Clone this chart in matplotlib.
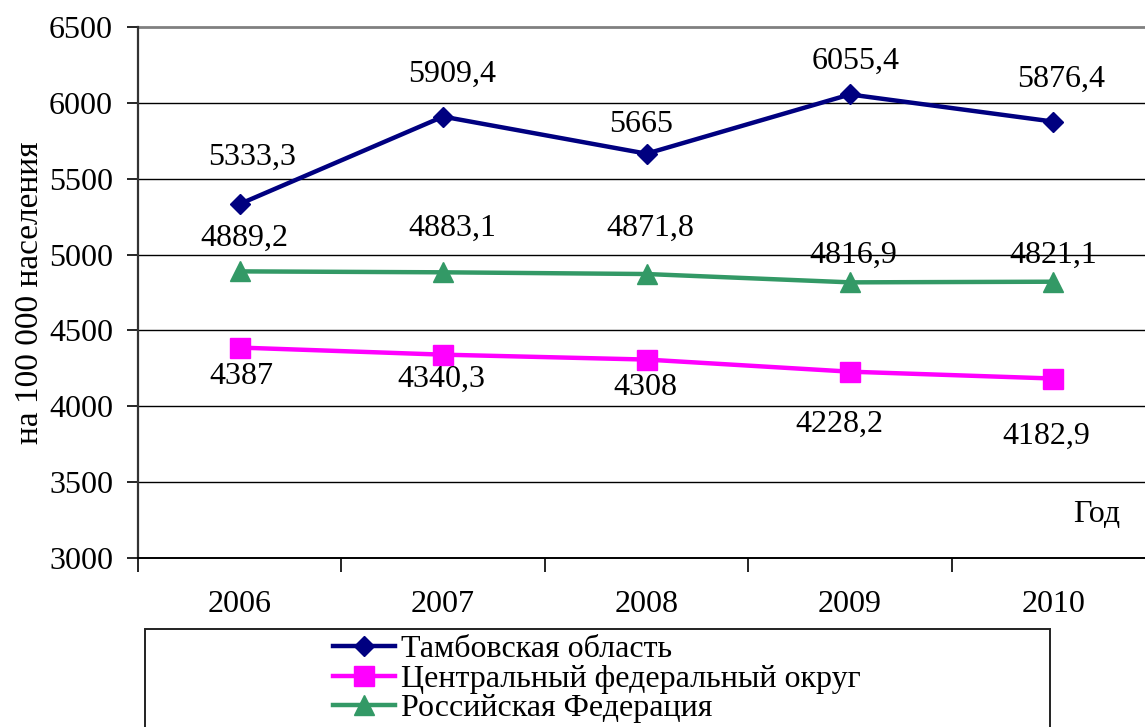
import matplotlib
matplotlib.use("Agg")
import matplotlib.pyplot as plt
from matplotlib.patches import Rectangle

plt.rcParams["font.family"] = ["Liberation Serif", "DejaVu Serif"]

# Data
years = ["2006", "2007", "2008", "2009", "2010"]
tambov = [5333.3, 5909.4, 5665, 6055.4, 5876.4]
cfd = [4387, 4340.3, 4308, 4228.2, 4182.9]
russia = [4889.2, 4883.1, 4871.8, 4816.9, 4821.1]
series_names = ["Тамбовская область", "Центральный федеральный округ", "Российская Федерация"]
y_ticks = [3000, 3500, 4000, 4500, 5000, 5500, 6000, 6500]

# Label offsets (pixels: dx, dy with +dy upward)
tambov_off = [(12, 47), (9, 42), (-5, 29), (6, 33), (8, 42)]
cfd_off = [(2, -29), (-2, -25), (-1, -28), (-11, -53), (-7, -58)]
russia_off = [(5, 33), (9, 44), (4, 46), (3, 27), (0, 26)]

W, H, DPI = 1145, 727, 100
fig = plt.figure(figsize=(W / DPI, H / DPI), dpi=DPI)
ax_left, ax_right, ax_top, ax_bot = 138, 1155, 27, 558
ax = fig.add_axes([ax_left / W, 1 - ax_bot / H, (ax_right - ax_left) / W, (ax_bot - ax_top) / H])

FS = 23
x = list(range(len(years)))

styles = [
    (tambov, "#000080", "D", 10.5, tambov_off),
    (cfd, "#FF00FF", "s", 14, cfd_off),
    (russia, "#339966", "^", 14, russia_off),
]
handles = []
for (vals, col, mk, ms, offs), name in zip(styles, series_names):
    (h,) = ax.plot(x, vals, color=col, lw=3.2, marker=mk, ms=ms,
                   markerfacecolor=col, markeredgecolor=col, label=name, zorder=3,
                   clip_on=False)
    handles.append(h)
    for xi, v, (dx, dy) in zip(x, vals, offs):
        txt = f"{v:g}".replace(".", ",")
        ax.annotate(txt, (xi, v), xytext=(dx * 0.72, dy * 0.72), textcoords="offset points",
                    ha="center", va="center", fontsize=FS, color="black", zorder=4)

ax.set_xlim(-0.5, len(years) - 0.5)
ax.set_ylim(3000, 6500)
ax.set_yticks(y_ticks)
ax.set_yticklabels([str(t) for t in y_ticks], fontsize=FS)
ax.set_xticks(x)
ax.set_xticklabels(years, fontsize=FS)
ax.set_xticks([i - 0.5 for i in range(len(years) + 1)], minor=True)
ax.tick_params(axis="x", which="major", length=0, pad=23)
ax.tick_params(axis="x", which="minor", length=10, width=1.2, color="black")
ax.tick_params(axis="y", length=8, width=1.2, pad=10)

for t in y_ticks[1:-1]:
    ax.axhline(t, color="black", lw=1.0, zorder=1)
ax.axhline(6500, color="#808080", lw=2.0, zorder=1, clip_on=False)

for s in ["top", "right"]:
    ax.spines[s].set_visible(False)
ax.spines["left"].set_color("#333333")
ax.spines["left"].set_linewidth(1.6)
ax.spines["bottom"].set_color("black")
ax.spines["bottom"].set_linewidth(1.4)

ax.text(1097 / W, 1 - 515 / H, "Год", transform=fig.transFigure, fontsize=FS,
        ha="center", va="center")
fig.text(30 / W, 1 - 293 / H, "на 100 000 населения", rotation=90, fontsize=24,
         ha="center", va="center")

# Legend box
fig.patches.append(Rectangle((145 / W, 1 - 760 / H), (1050 - 145) / W, (760 - 629) / H,
                             transform=fig.transFigure, fill=False, edgecolor="#222222",
                             lw=1.4, zorder=5))
fig.legend(handles=handles, loc="upper left", bbox_to_anchor=(333 / W, 1 - 635 / H),
           frameon=False, fontsize=FS, handlelength=1.94, handletextpad=0.19,
           labelspacing=0.0, borderpad=0.0, borderaxespad=0.0)

fig.savefig("out.png", dpi=DPI)
